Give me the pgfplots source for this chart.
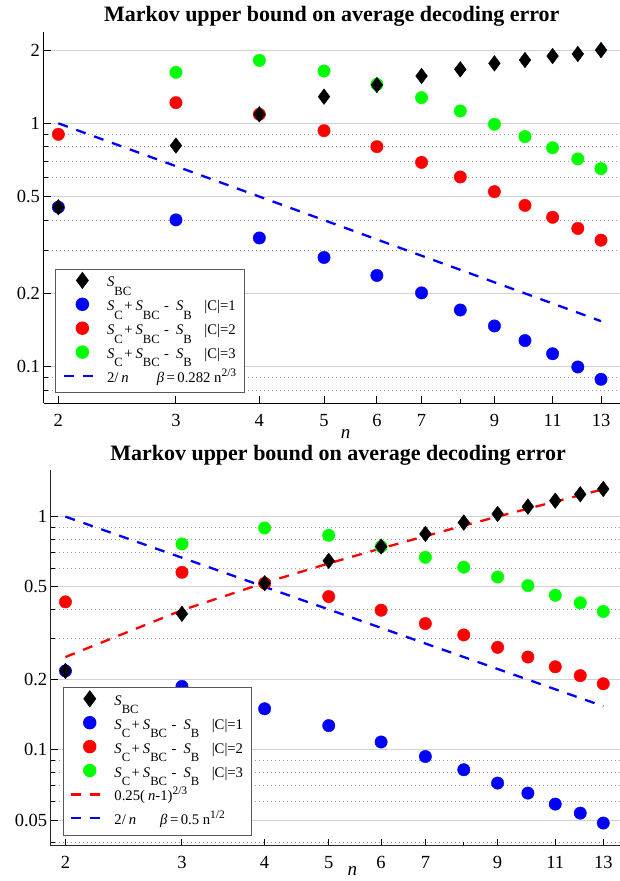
\documentclass[border=0pt]{standalone}
\usepackage{fontspec}
\setmainfont{Liberation Serif}
\usepackage{pgfplots}
\pgfplotsset{compat=1.18}

\newcommand{\Sx}[1]{\textit{S}\raisebox{-8.3pt}{\fontsize{12.6}{12.6}\selectfont #1}}
\newcommand{\SSS}[1]{\Sx{C}\hspace{1.5pt}+\hspace{3pt}\Sx{BC}\hspace{4.5pt}-\hspace{7pt}\Sx{B}\hspace{12.5pt}|C|=#1}
\newcommand{\Sup}[1]{\raisebox{6pt}{\fontsize{11.5}{12}\selectfont #1}}
\tikzset{dsh/.style={line width=2.3pt, dash pattern=on 10pt off 9pt}}

\begin{document}
\begin{tikzpicture}
\useasboundingbox (0,0) rectangle (620pt,881pt);

% ---------------- top panel ----------------
\begin{axis}[
  at={(43.5pt,477.7pt)}, anchor=south west,
  scale only axis, width=576.5pt, height=371.6pt,
  xmode=log, ymode=log,
  xmin=1.9, xmax=13.88, ymin=0.0707, ymax=2.38,
  axis x line=bottom, axis y line=left,
  axis line style={-, line width=1.1pt, black},
  tick align=inside, major tick length=7pt, minor tick length=4pt,
  tick style={black, line width=1pt},
  xtick={2,3,4,5,6,7,9,11,13}, xticklabels={2,3,4,5,6,7,9,11,13}, minor xtick={8},
  ytick={0.1,0.2,0.5,1,2}, yticklabels={0.1,0.2,0.5,1,2},
  minor ytick={0.08,0.09,0.3,0.4,0.6,0.7,0.8,0.9},
  tick label style={font=\fontsize{18.5}{20}\selectfont},
  xticklabel style={yshift=-7.5pt},
  ymajorgrids, yminorgrids,
  major grid style={draw=black!18, line width=0.9pt, solid},
  minor grid style={draw=black!40, line width=0.9pt, dash pattern=on 0.9pt off 3.1pt},
  clip=false,
  every axis title shift=0pt,
  title={Markov upper bound on average decoding error},
  title style={font=\fontsize{22}{26}\selectfont\bfseries, anchor=base, yshift=0pt, at={(axis description cs:0.5,1.0269)}},
  xlabel={\textit{n}},
  xlabel style={font=\fontsize{19}{22}\selectfont, anchor=center, at={(axis description cs:0.524,-0.082)}},
  legend cell align=left,
  legend image code/.code={\draw[mark repeat=2,mark phase=2,#1] plot coordinates {(0pt,3pt) (18.4pt,3pt) (29pt,3pt)};},
  legend style={font=\fontsize{14.7}{17}\selectfont, anchor=north west,
    at={(axis description cs:0.0205,0.3606)},
    draw=black!65, line width=1pt, fill=white, inner xsep=7pt, inner ysep=2.8pt,
    row sep=2.9pt, column sep=11.4pt,
    nodes={inner xsep=1.5pt, inner ysep=0pt, text height=14pt, text depth=7pt}},
]
\addlegendimage{only marks, mark=diamond*, black, mark size=7.8pt}
\addlegendentry{\Sx{BC}}
\addlegendimage{only marks, mark=*, blue, mark size=6.2pt}
\addlegendentry{\SSS{1}}
\addlegendimage{only marks, mark=*, red, mark size=6.2pt}
\addlegendentry{\SSS{2}}
\addlegendimage{only marks, mark=*, green, mark size=6.2pt}
\addlegendentry{\SSS{3}}
\addlegendimage{blue, dsh}
\addlegendentry{2/\hspace{3pt}\textit{n}\hspace{28pt}\textit{β}\hspace{2.5pt}=\hspace{2.5pt}0.282 n\Sup{2/3}}

\addplot[blue, dsh, forget plot] coordinates {(2,1) (3,0.6667) (4,0.5) (5,0.4) (6,0.3333) (7,0.2857) (8,0.25) (9,0.2222) (10,0.2) (11,0.1818) (12,0.1667) (13,0.1538)};
\addplot[only marks, mark=*, blue, mark size=6.2pt, forget plot] coordinates {(2,0.452) (3,0.401) (4,0.338) (5,0.281) (6,0.237) (7,0.201) (8,0.171) (9,0.147) (10,0.128) (11,0.113) (12,0.0997) (13,0.0887)};
\addplot[only marks, mark=*, red, mark size=6.2pt, forget plot] coordinates {(2,0.901) (3,1.216) (4,1.089) (5,0.933) (6,0.802) (7,0.691) (8,0.602) (9,0.524) (10,0.46) (11,0.411) (12,0.37) (13,0.331)};
\addplot[only marks, mark=*, green, mark size=6.2pt, forget plot] coordinates {(3,1.62) (4,1.815) (5,1.641) (6,1.446) (7,1.275) (8,1.124) (9,0.991) (10,0.882) (11,0.794) (12,0.714) (13,0.651)};
\addplot[only marks, mark=diamond*, black, mark size=7.8pt, forget plot] coordinates {(2,0.452) (3,0.81) (4,1.089) (5,1.287) (6,1.437) (7,1.565) (8,1.667) (9,1.764) (10,1.82) (11,1.891) (12,1.927) (13,2.0)};
\end{axis}

% ---------------- bottom panel ----------------
\begin{axis}[
  at={(50.7pt,35.3pt)}, anchor=south west,
  scale only axis, width=569.3pt, height=375.7pt,
  xmode=log, ymode=log,
  xmin=1.9, xmax=13.78, ymin=0.0388, ymax=1.585,
  axis x line=bottom, axis y line=left,
  axis line style={-, line width=1.1pt, black!85},
  tick align=inside, major tick length=7pt, minor tick length=4pt,
  tick style={black, line width=1pt},
  xtick={2,3,4,5,6,7,9,11,13}, xticklabels={2,3,4,5,6,7,9,11,13}, minor xtick={8},
  ytick={0.05,0.1,0.2,0.5,1}, yticklabels={0.05,0.1,0.2,0.5,1},
  minor ytick={0.04,0.06,0.07,0.08,0.09,0.3,0.4,0.6,0.7,0.8,0.9},
  tick label style={font=\fontsize{18.5}{20}\selectfont},
  xticklabel style={yshift=-7pt},
  ymajorgrids, yminorgrids,
  major grid style={draw=black!18, line width=0.9pt, solid},
  minor grid style={draw=black!40, line width=0.9pt, dash pattern=on 0.9pt off 3.1pt},
  clip=false,
  every axis title shift=0pt,
  title={Markov upper bound on average decoding error},
  title style={font=\fontsize{22}{26}\selectfont\bfseries, anchor=base, yshift=0pt, at={(axis description cs:0.5047,1.0248)}},
  xlabel={\textit{n}},
  xlabel style={font=\fontsize{19}{22}\selectfont, anchor=center, at={(axis description cs:0.530,-0.067)}},
  legend cell align=left,
  legend image code/.code={\draw[mark repeat=2,mark phase=2,#1] plot coordinates {(0pt,3pt) (18.4pt,3pt) (29pt,3pt)};},
  legend style={font=\fontsize{14.7}{17}\selectfont, anchor=north west,
    at={(axis description cs:0.0211,0.4232)},
    draw=black!65, line width=1pt, fill=white, inner xsep=7pt, inner ysep=3.8pt,
    row sep=2.9pt, column sep=11.4pt,
    nodes={inner xsep=1.5pt, inner ysep=0pt, text height=14pt, text depth=7pt}},
]
\addlegendimage{only marks, mark=diamond*, black, mark size=7.8pt}
\addlegendentry{\Sx{BC}}
\addlegendimage{only marks, mark=*, blue, mark size=6.2pt}
\addlegendentry{\SSS{1}}
\addlegendimage{only marks, mark=*, red, mark size=6.2pt}
\addlegendentry{\SSS{2}}
\addlegendimage{only marks, mark=*, green, mark size=6.2pt}
\addlegendentry{\SSS{3}}
\addlegendimage{red, dsh}
\addlegendentry{0.25(\hspace{3pt}\textit{n}-1)\Sup{2/3}}
\addlegendimage{blue, dsh}
\addlegendentry{2/\hspace{3pt}\textit{n}\hspace{24pt}\textit{β}\hspace{2.5pt}=\hspace{2.5pt}0.5 n\Sup{1/2}}

\addplot[red, dsh, forget plot] coordinates {(2,0.25) (3,0.397) (4,0.520) (5,0.630) (6,0.731) (7,0.825) (8,0.915) (9,1.0) (10,1.082) (11,1.160) (12,1.236) (13,1.310)};
\addplot[blue, dsh, forget plot] coordinates {(2,1) (3,0.6667) (4,0.5) (5,0.4) (6,0.3333) (7,0.2857) (8,0.25) (9,0.2222) (10,0.2) (11,0.1818) (12,0.1667) (13,0.1538)};
\addplot[only marks, mark=*, blue, mark size=6.2pt, forget plot] coordinates {(2,0.218) (3,0.187) (4,0.150) (5,0.127) (6,0.108) (7,0.0936) (8,0.0821) (9,0.072) (10,0.0652) (11,0.0585) (12,0.0535) (13,0.0485)};
\addplot[only marks, mark=*, red, mark size=6.2pt, forget plot] coordinates {(2,0.431) (3,0.577) (4,0.518) (5,0.454) (6,0.397) (7,0.348) (8,0.311) (9,0.275) (10,0.25) (11,0.227) (12,0.208) (13,0.192)};
\addplot[only marks, mark=*, green, mark size=6.2pt, forget plot] coordinates {(3,0.764) (4,0.894) (5,0.832) (6,0.744) (7,0.669) (8,0.607) (9,0.551) (10,0.506) (11,0.46) (12,0.427) (13,0.392)};
\addplot[only marks, mark=diamond*, black, mark size=7.8pt, forget plot] coordinates {(2,0.218) (3,0.383) (4,0.518) (5,0.646) (6,0.744) (7,0.843) (8,0.943) (9,1.027) (10,1.104) (11,1.171) (12,1.247) (13,1.314)};
\end{axis}
\end{tikzpicture}
\end{document}
